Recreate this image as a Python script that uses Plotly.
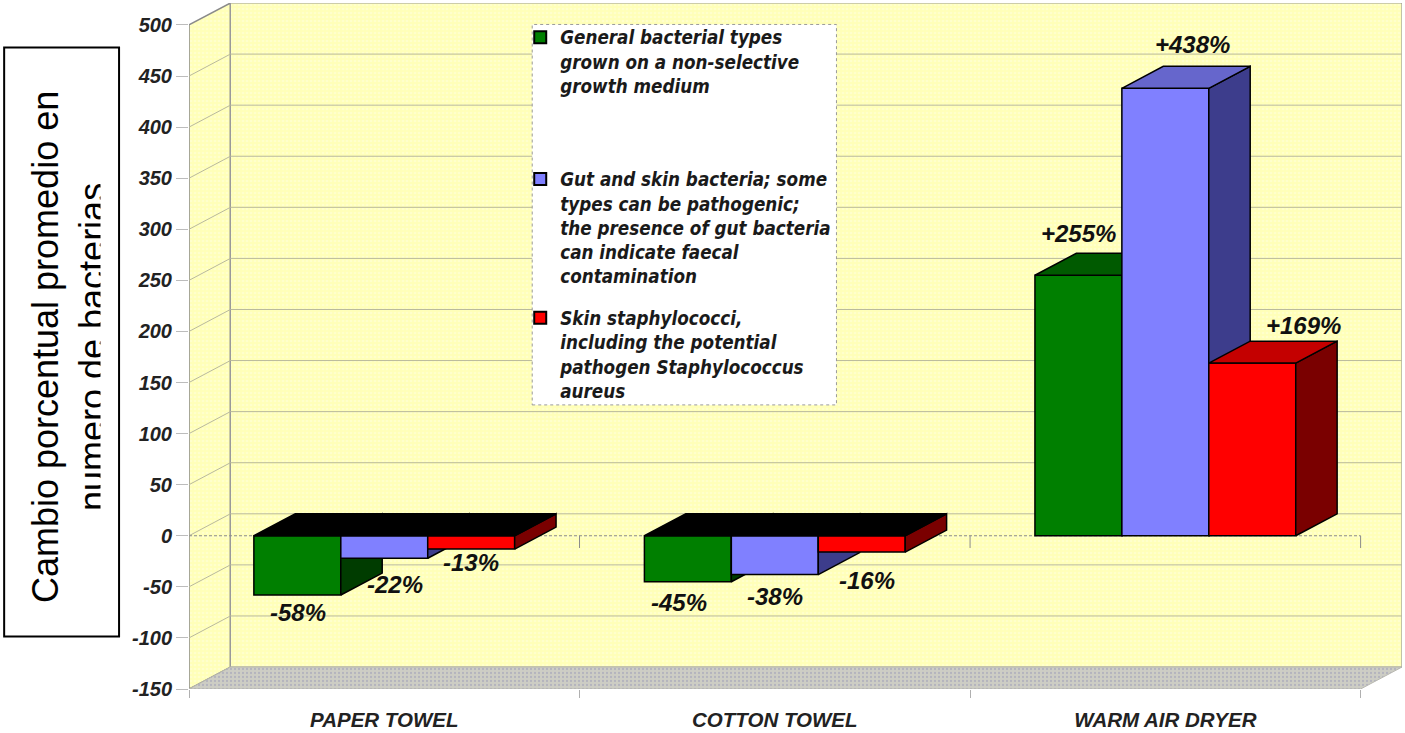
import plotly.graph_objects as go

# ---------- data ----------
categories = ["PAPER TOWEL", "COTTON TOWEL", "WARM AIR DRYER"]
general_bacteria = [-58, -45, 255]
gut_skin_bacteria = [-22, -38, 438]
skin_staphylococci = [-13, -16, 169]
general_labels = ["-58%", "-45%", "+255%"]
gut_skin_labels = ["-22%", "-38%", "+438%"]
staph_labels = ["-13%", "-16%", "+169%"]
y_ticks = [500, 450, 400, 350, 300, 250, 200, 150, 100, 50, 0, -50, -100, -150]
series_names = [
    "General bacterial types<br>grown on a non-selective<br>growth medium",
    "Gut and skin bacteria; some<br>types can be pathogenic;<br>the presence of gut bacteria<br>can indicate faecal<br>contamination",
    "Skin staphylococci,<br>including the potential<br>pathogen Staphylococcus<br>aureus",
]
y_title = "Cambio porcentual promedio en<br>numero de bacterias"

# ---------- page geometry and styles ----------
W, H = 1405, 733
ML, MR, MT, MB = 188.5, 2.5, 2.5, 43.5
PW, PH = W - ML - MR, H - MT - MB
DX, DZ = 0.106, 21.5            # depth of the pseudo-3D box, in axis units
XR = [-0.5, 2.5 + DX]
YR = [-150, 500 + DZ]
BW = 0.2226
FONT = "Liberation Sans"
LEGEND_FONT = "DejaVu Sans Condensed"
FRONT = ["#007f00", "#8080ff", "#ff0000"]
TOP = ["#005a00", "#6666cc", "#c40000"]
SIDE = ["#003c00", "#3d3d8c", "#7a0000"]
LEGEND_TOPS = [18, 160, 299]    # pixel top of each legend block
# label offsets from each bar's front-top-centre, in pixels: [category][series]
LABEL_SHIFT = [
    [(1, -17), (11, -26), (0, -13)],
    [(-9, -21), (0, -22), (5, -28)],
    [(0, 42), (27, 44), (51, 38)],
]

def px(v):
    return (v - ML) / PW

def py(v):
    return 1 - (v - MT) / PH

def poly(xs, ys, fill, axes=("x", "y"), line="black", lw=1.5, pattern=None):
    return go.Scatter(
        x=xs, y=ys, mode="lines", fill="toself", fillcolor=fill,
        fillpattern=pattern, line=dict(color=line, width=lw),
        xaxis=axes[0], yaxis=axes[1], showlegend=False, hoverinfo="skip",
    )

def rule(xs, ys, color="#b9b99c", width=1, dash="solid"):
    return go.Scatter(
        x=xs, y=ys, mode="lines", line=dict(color=color, width=width, dash=dash),
        showlegend=False, hoverinfo="skip",
    )

fig = go.Figure()
x0, x1 = XR[0], 2.5
ybot, ytop = -150, 500
wall_dots = dict(shape=".", fgcolor="#ffffe0", bgcolor="#ffffb8", size=4, solidity=0.35)
floor_dots = dict(shape=".", fgcolor="#9a9ab8", bgcolor="#cdcdc4", size=4, solidity=0.25)

# walls and floor
fig.add_trace(poly([x0, x0, x0 + DX, x0 + DX, x0], [ybot, ytop, ytop + DZ, ybot + DZ, ybot],
                   "#ffffb8", line="#8a8a8a", lw=1.5, pattern=wall_dots))
fig.add_trace(poly([x0 + DX, x0 + DX, x1 + DX, x1 + DX, x0 + DX],
                   [ybot + DZ, ytop + DZ, ytop + DZ, ybot + DZ, ybot + DZ],
                   "#ffffb8", line="#9a9a9a", lw=1.2, pattern=wall_dots))
fig.add_trace(poly([x0, x1, x1 + DX, x0 + DX, x0], [ybot, ybot, ybot + DZ, ybot + DZ, ybot],
                   "#cdcdc4", line="#b8b8b0", lw=1, pattern=floor_dots))
# gridlines on the walls
for t in y_ticks[1:-1]:
    fig.add_trace(rule([x0, x0 + DX, x1 + DX], [t, t + DZ, t + DZ]))
# zero plane line and its category ticks
fig.add_trace(rule([x0, x1], [0, 0], color="#8c8c8c", width=1.2, dash="3px,2px"))
for b in [0.5, 1.5, 2.5]:
    fig.add_trace(rule([b, b], [0, -12], color="#8c8c8c", width=1))

# bars, one overlaid axis pair per series so later series sit in front
all_series = [general_bacteria, gut_skin_bacteria, skin_staphylococci]
all_labels = [general_labels, gut_skin_labels, staph_labels]
legend_ids = ["legend", "legend2", "legend3"]
annotations = []
for s, values in enumerate(all_series):
    ax = (f"x{s + 2}", f"y{s + 2}")
    centres = [i + (s - 1) * BW for i in range(len(categories))]
    fig.add_trace(go.Bar(
        x=centres, y=values, width=BW, name=series_names[s], legend=legend_ids[s],
        marker=dict(color=FRONT[s], line=dict(color="black", width=1.5)),
        xaxis=ax[0], yaxis=ax[1], hoverinfo="skip", showlegend=True,
    ))
    for i, v in enumerate(values):
        l, r = centres[i] - BW / 2, centres[i] + BW / 2
        t = max(v, 0)
        low = min(v, 0)
        fig.add_trace(poly([r, r, r + DX, r + DX, r], [low, t, t + DZ, low + DZ, low],
                           SIDE[s], axes=ax))
        fig.add_trace(poly([l, r, r + DX, l + DX, l], [t, t, t + DZ, t + DZ, t],
                           "black" if v < 0 else TOP[s], axes=ax))
        dx, dy = LABEL_SHIFT[i][s]
        annotations.append(dict(
            x=centres[i], y=v, xref="x", yref="y", text=all_labels[s][i], showarrow=False,
            xshift=dx, yshift=dy,
            font=dict(family=FONT, size=24, weight="bold", style="italic", color="#111111"),
        ))

# y-title box text, with the cut-off lower edge of its second line
annotations.append(dict(
    x=px(68.5), y=py(347), xref="paper", yref="paper", xanchor="center", yanchor="middle",
    text=y_title, showarrow=False, textangle=-90,
    font=dict(family=FONT, size=36, color="black"),
))
annotations.append(dict(
    x=px(106), y=py(347), xref="paper", yref="paper", xanchor="center", yanchor="middle",
    text="&nbsp;", showarrow=False,
    width=11, height=380, bgcolor="white", borderpad=0, font=dict(size=10),
))

axis_style = dict(showgrid=False, zeroline=False, showline=False)
layout_axes = {}
for n in (2, 3, 4):
    layout_axes[f"xaxis{n}"] = dict(range=XR, overlaying="x", visible=False, **axis_style)
    layout_axes[f"yaxis{n}"] = dict(range=YR, overlaying="y", visible=False, **axis_style)

legends = {}
for lid, top in zip(legend_ids, LEGEND_TOPS):
    legends[lid] = dict(
        x=px(520), y=py(top), xanchor="left", yanchor="top", valign="top",
        bgcolor="rgba(0,0,0,0)", borderwidth=0, itemsizing="constant",
        font=dict(family=LEGEND_FONT, size=18.7, weight="bold", style="italic", color="#1a1a1a"),
        itemclick=False, itemdoubleclick=False,
    )

fig.update_layout(
    width=W, height=H, margin=dict(l=ML, r=MR, t=MT, b=MB),
    paper_bgcolor="white", plot_bgcolor="white",
    barmode="overlay",
    xaxis=dict(
        range=XR, tickmode="array", tickvals=list(range(len(categories))), ticktext=categories,
        ticks="outside", ticklen=12, tickcolor="rgba(0,0,0,0)",
        tickfont=dict(family=FONT, size=20.5, weight="bold", style="italic", color="#222222"),
        minor=dict(tickvals=[-0.5, 0.5, 1.5, 2.5], ticks="outside", ticklen=8, tickcolor="#b0b0b0"),
        **axis_style,
    ),
    yaxis=dict(
        range=YR, tickmode="array", tickvals=y_ticks, ticktext=[str(t) for t in y_ticks],
        ticks="outside", ticklen=12, tickcolor="#bcbcbc",
        tickfont=dict(family=FONT, size=20, weight="bold", style="italic", color="#222222"),
        **axis_style,
    ),
    shapes=[
        dict(type="rect", xref="paper", yref="paper", x0=px(532), x1=px(836.5), y0=py(405), y1=py(24),
             fillcolor="white", line=dict(color="#9a9a9a", width=1, dash="dot"), layer="above"),
        dict(type="rect", xref="paper", yref="paper", x0=px(3.5), x1=px(118.5), y0=py(637), y1=py(47),
             fillcolor="white", line=dict(color="black", width=2), layer="above"),
    ],
    annotations=annotations,
    **legends,
    **layout_axes,
)

fig.write_html(
    "out.html",
    config={"displayModeBar": False},
    post_script="document.body.style.margin='0';document.body.style.overflow='hidden';",
)
